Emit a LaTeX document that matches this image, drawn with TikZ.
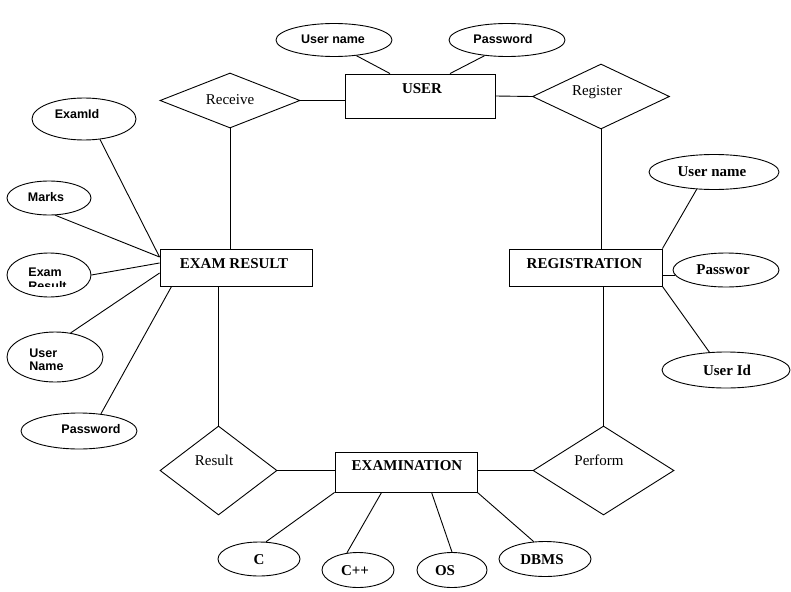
\documentclass[tikz,border=0pt]{standalone}
\usepackage{fontspec}
\setmainfont{Liberation Serif}
\newfontfamily\sanf{Liberation Sans}
\usetikzlibrary{shapes.geometric}
\begin{document}
\begin{tikzpicture}[x=1pt,y=-1pt,line width=0.9pt,
  ent/.style={draw,rectangle,inner sep=0pt},
  rel/.style={draw,diamond,inner sep=0pt},
  attr/.style={draw,ellipse,inner sep=0pt},
  etxt/.style={font=\fontsize{15}{17}\selectfont\bfseries,inner sep=0pt},
  rtxt/.style={font=\fontsize{15}{17}\selectfont,inner sep=0pt},
  stxt/.style={font=\sanf\fontsize{12.5}{13}\selectfont\bfseries,inner sep=0pt},
  btxt/.style={font=\fontsize{15}{17}\selectfont\bfseries,inner sep=0pt}]
\useasboundingbox (0,0) rectangle (791,591);

% entities
\node[ent,minimum width=150pt,minimum height=44pt] (user) at (420,96) {};
\node[etxt] at (422,89) {USER};
\node[ent,minimum width=152pt,minimum height=37pt] (exres) at (236,267.5) {};
\node[etxt] at (234,264) {EXAM RESULT};
\node[ent,minimum width=153pt,minimum height=37pt] (reg) at (585.5,267.5) {};
\node[etxt] at (584.5,264) {REGISTRATION};
\node[ent,minimum width=142pt,minimum height=40pt] (exam) at (406,472) {};
\node[etxt] at (407,466) {EXAMINATION};

% relationships
\node[rel,minimum width=140pt,minimum height=55pt] (receive) at (230,100.5) {};
\node[rtxt] at (230,100) {Receive};
\node[rel,minimum width=137pt,minimum height=65pt] (register) at (601,96.5) {};
\node[rtxt] at (597,92) {Register};
\node[rel,minimum width=117pt,minimum height=89pt] (result) at (218.5,470.5) {};
\node[rtxt] at (214,460) {Result};
\node[rel,minimum width=141pt,minimum height=89pt] (perform) at (603.5,470.5) {};
\node[rtxt] at (599,460) {Perform};

% attributes of USER
\node[attr,minimum width=116pt,minimum height=33pt] (uname) at (334,40) {};
\node[stxt] at (333,39) {User name};
\node[attr,minimum width=116pt,minimum height=33pt] (upw) at (507,40) {};
\node[stxt] at (503,39) {Password};

% attributes of EXAM RESULT
\node[attr,minimum width=104pt,minimum height=42pt] (examid) at (84,119) {};
\node[stxt] at (77,114) {ExamId};
\node[attr,minimum width=84pt,minimum height=34pt] (marks) at (49,198) {};
\node[stxt] at (46,197) {Marks};
\node[attr,minimum width=84pt,minimum height=44pt] (erattr) at (49,275) {};
\node[stxt,anchor=base west] at (28,276) {Exam};
\begin{scope}
\clip (0,270) rectangle (100,286.5);
\node[stxt,anchor=base west] at (28,290) {Result};
\end{scope}
\node[attr,minimum width=96pt,minimum height=50pt] (lun) at (55,357) {};
\node[stxt,anchor=west,align=left] at (29,359.5) {User\\Name};
\node[attr,minimum width=116pt,minimum height=36pt] (lpw) at (79,431) {};
\node[stxt] at (91,429) {Password};

% attributes of REGISTRATION
\node[attr,minimum width=130pt,minimum height=35pt] (runame) at (714,172) {};
\node[btxt] at (712,172) {User name};
\node[attr,minimum width=106pt,minimum height=34pt] (rpw) at (726,270) {};
\node[btxt] at (723,270) {Passwor};
\node[attr,minimum width=128pt,minimum height=36pt] (ruid) at (726,370) {};
\node[btxt] at (727,370) {User Id};

% attributes of EXAMINATION
\node[attr,minimum width=82pt,minimum height=34pt] (c) at (259,559) {};
\node[btxt] at (259,560) {C};
\node[attr,minimum width=72pt,minimum height=35pt] (cpp) at (358,570) {};
\node[btxt] at (355,571) {C++};
\node[attr,minimum width=70pt,minimum height=35pt] (os) at (452,570) {};
\node[btxt] at (445,571) {OS};
\node[attr,minimum width=92pt,minimum height=35pt] (dbms) at (545,559) {};
\node[btxt] at (542,560) {DBMS};

% connectors: relationships
\draw (receive.east) -- (receive.east -| user.west);
\draw (user.east) -- (register.west);
\draw (register.south) -- (register.south |- reg.north);
\draw (perform.north |- reg.south) -- (perform.north);
\draw (receive.south) -- (receive.south |- exres.north);
\draw (result.north |- exres.south) -- (result.north);
\draw (result.east) -- (result.east -| exam.west);
\draw (perform.west -| exam.east) -- (perform.west);

% connectors: attributes
\draw (uname.-35) -- ([xshift=-30pt]user.north);
\draw (upw.-145) -- ([xshift=30pt]user.north);
\draw (examid.-52) -- ([yshift=10.5pt]exres.west);
\draw (marks.-70) -- ([yshift=10.5pt]exres.west);
\draw (erattr.east) -- ([yshift=4.5pt]exres.west);
\draw (lun.57) -- ([yshift=-5.5pt]exres.west);
\draw (lpw.38) -- ([xshift=12pt]exres.south west);
\draw (runame.-135) -- (reg.north east);
\draw ([xshift=2pt,yshift=-5pt]rpw.west) -- ([yshift=-5pt]rpw.west -| reg.east);
\draw (ruid.133) -- (reg.south east);
\draw (exam.south west) -- (c.68);
\draw ([xshift=47pt]exam.south west) -- (cpp.123);
\draw ([xshift=97pt]exam.south west) -- (os.north);
\draw (exam.south east) -- (dbms.123);
\end{tikzpicture}
\end{document}
